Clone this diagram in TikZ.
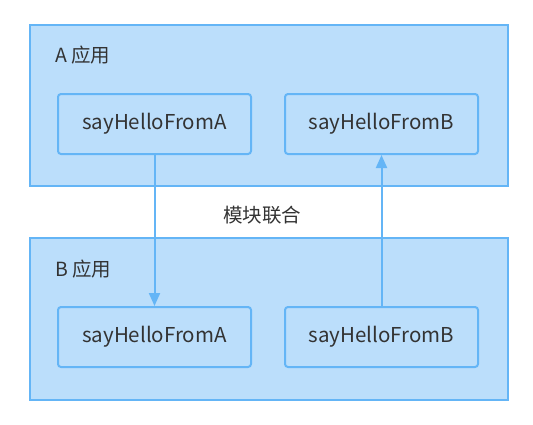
\documentclass[tikz,border=0pt]{standalone}
\usepackage{fontspec}
\setmainfont{Noto Sans CJK SC}
\usepackage{tikz}
\usetikzlibrary{arrows.meta,positioning}
\definecolor{boxfill}{HTML}{BBDEFB}
\definecolor{boxline}{HTML}{64B5F6}
\definecolor{textgray}{HTML}{333333}
\tikzset{
  appbox/.style={
    draw=boxline,
    fill=boxfill,
    line width=2pt,
    minimum width=478.5pt,
    minimum height=161.5pt,
    inner sep=0pt
  },
  funcbox/.style={
    draw=boxline,
    fill=boxfill,
    rounded corners=3pt,
    line width=2pt,
    minimum width=193pt,
    minimum height=60pt,
    text=textgray,
    font=\fontsize{20.5}{24}\selectfont
  },
  applabel/.style={
    anchor=west,
    text=textgray,
    inner sep=0pt,
    font=\fontsize{19.5}{23}\selectfont
  },
  callarrow/.style={
    -{Triangle[length=13pt,width=11pt]},
    line width=2pt,
    draw=boxline
  }
}
\begin{document}
\begin{tikzpicture}[x=1pt,y=-1pt]
    \useasboundingbox (0,0) rectangle (533,424);
    \node[appbox] (appA) at (268.75,105.25) {};
    \node[appbox] (appB) at (268.75,319) {};
    \node[applabel] (labelA) at (55,55) {A 应用};
    \node[applabel] (labelB) at (55,269) {B 应用};
    \node[funcbox] (aFromA) at (154.5,124) {sayHelloFromA};
    \node[funcbox] (aFromB) at (381.5,124) {sayHelloFromB};
    \node[funcbox] (bFromA) at (154.5,337) {sayHelloFromA};
    \node[funcbox] (bFromB) at (381.5,337) {sayHelloFromB};
    \node[text=textgray, font=\fontsize{19.5}{23}\selectfont] (federation) at (262,215) {模块联合};
    \draw[callarrow] (aFromA) -- (bFromA);
    \draw[callarrow] (bFromB) -- (aFromB);
  \end{tikzpicture}
\end{document}
